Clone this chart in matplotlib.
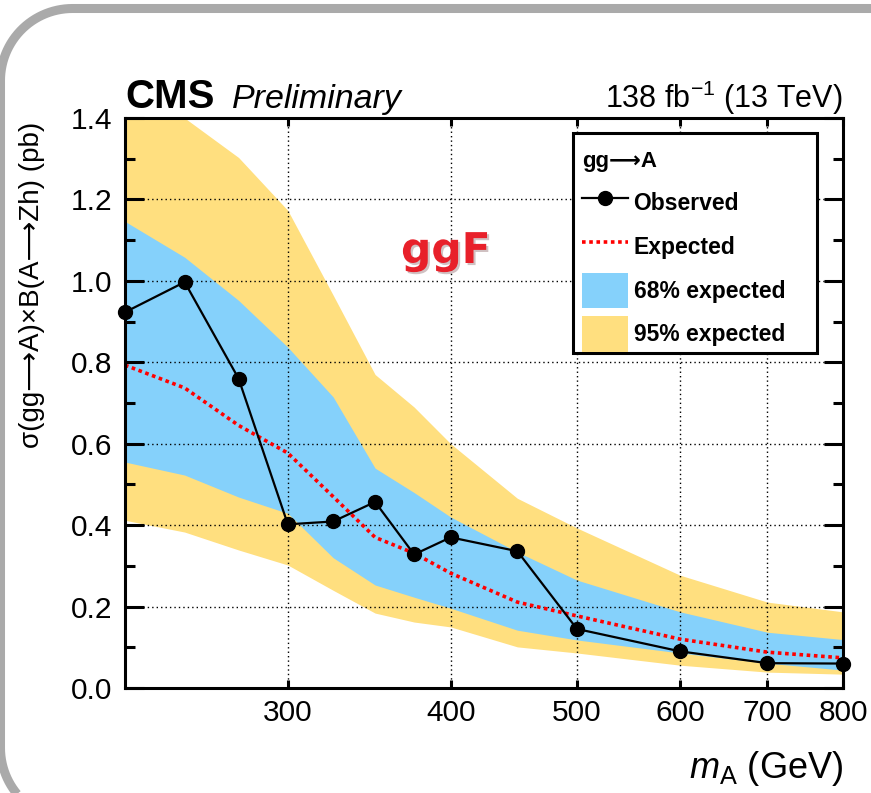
import matplotlib
matplotlib.use("Agg")
import matplotlib.pyplot as plt
import numpy as np
from matplotlib.lines import Line2D
from matplotlib.patches import Patch, PathPatch, Rectangle
from matplotlib.path import Path
from matplotlib.transforms import IdentityTransform
from matplotlib.ticker import FixedLocator, NullLocator, MultipleLocator, FormatStrFormatter
import matplotlib.patheffects as pe

plt.rcParams['font.family'] = ['Liberation Sans', 'DejaVu Sans']
plt.rcParams['mathtext.fontset'] = 'custom'
plt.rcParams['mathtext.rm'] = 'Liberation Sans'
plt.rcParams['mathtext.it'] = 'Liberation Sans:italic'
plt.rcParams['mathtext.bf'] = 'Liberation Sans:bold'

# ---- data ----
mass = [225, 250, 275, 300, 325, 350, 375, 400, 450, 500, 600, 700, 800]
observed = [0.923, 0.997, 0.760, 0.402, 0.409, 0.457, 0.328, 0.370, 0.336, 0.145, 0.090, 0.061, 0.060]
expected = [0.793, 0.737, 0.645, 0.577, 0.470, 0.370, 0.331, 0.282, 0.211, 0.177, 0.120, 0.088, 0.074]
up68 = [1.146, 1.058, 0.952, 0.837, 0.715, 0.540, 0.480, 0.420, 0.334, 0.265, 0.187, 0.137, 0.119]
lo68 = [0.555, 0.523, 0.469, 0.429, 0.320, 0.253, 0.223, 0.196, 0.142, 0.118, 0.086, 0.061, 0.044]
up95 = [1.500, 1.400, 1.303, 1.173, 0.965, 0.770, 0.690, 0.600, 0.466, 0.393, 0.277, 0.211, 0.187]
lo95 = [0.412, 0.383, 0.339, 0.302, 0.240, 0.184, 0.162, 0.150, 0.101, 0.086, 0.056, 0.039, 0.034]
xticks = [300, 400, 500, 600, 700, 800]
legend_header = 'gg⟶A'
legend_labels = ['Observed', 'Expected', '68% expected', '95% expected']

c68 = '#85D1FB'
c95 = '#FFDF7F'

W, H = 871, 793
fig = plt.figure(figsize=(W/100, H/100), dpi=100)

# outer rounded frame (open on the right/bottom, drawn in pixel coordinates)
x0, ytop, ybot, r = 0.5, H - 8.5, -27.0, 72.0
t1 = np.linspace(np.pi/2, np.pi, 30)
t2 = np.linspace(np.pi, 1.5*np.pi, 30)
pts = [(W + 50, ytop)]
pts += list(zip(x0 + r + r*np.cos(t1), ytop - r + r*np.sin(t1)))
pts += list(zip(x0 + r + r*np.cos(t2), ybot + r + r*np.sin(t2)))
pts += [(W + 50, ybot)]
frame = PathPatch(Path(pts), transform=IdentityTransform(), fill=False,
                  edgecolor='#AAAAAA', linewidth=6.5, capstyle='butt')
fig.add_artist(frame)

AX_L, AX_R, AX_T, AX_B = 125, 843, 118, 688
ax = fig.add_axes([AX_L/W, 1 - AX_B/H, (AX_R-AX_L)/W, (AX_B-AX_T)/H])

def afx(px):
    return (px - AX_L) / (AX_R - AX_L)

def afy(py):
    return (AX_B - py) / (AX_B - AX_T)

ax.fill_between(mass, lo95, up95, color=c95, lw=0, zorder=1)
ax.fill_between(mass, lo68, up68, color=c68, lw=0, zorder=1.2)
ax.plot(mass, expected, color='red', lw=2.6, ls=(0, (1, 1.0)), zorder=3)
ax.plot(mass, observed, color='black', lw=1.6, marker='o', ms=10,
        zorder=4, clip_on=False)

ax.set_xscale('log')
ax.set_xlim(225, 800)
ax.set_ylim(0, 1.4)
ax.xaxis.set_major_locator(FixedLocator(xticks))
ax.xaxis.set_minor_locator(NullLocator())
ax.set_xticklabels([str(t) for t in xticks])
ax.yaxis.set_major_locator(MultipleLocator(0.2))
ax.yaxis.set_minor_locator(MultipleLocator(0.1))
ax.yaxis.set_major_formatter(FormatStrFormatter('%.1f'))

ax.set_axisbelow(False)
ax.grid(True, which='major', color='black', ls=(0, (1, 2.2)), lw=1.0, zorder=2)

for s in ax.spines.values():
    s.set_linewidth(2.2)
    s.set_zorder(5)
ax.tick_params(axis='both', which='both', direction='in', top=True, right=True,
               width=2.2, labelsize=21.5)
ax.tick_params(axis='y', which='major', length=14, pad=9)
ax.tick_params(axis='y', which='minor', length=7)
ax.tick_params(axis='x', which='major', length=6, pad=8)

# axis titles
ax.text(1.0, -0.158, r'$m_{\mathrm{A}}$ (GeV)', transform=ax.transAxes,
        ha='right', va='baseline', fontsize=26)
fig.text(32/W, 1 - 122/H, 'σ(gg⟶A)×B(A⟶Zh) (pb)', rotation=90,
         ha='center', va='top', fontsize=20)

# header
ax.text(0.0, 1.0175, 'CMS', transform=ax.transAxes, ha='left', va='baseline',
        fontsize=29, fontweight='bold')
ax.text(afx(232), 1.0175, 'Preliminary', transform=ax.transAxes, ha='left',
        va='baseline', fontsize=24.5, fontstyle='italic')
ax.text(1.0, 1.0175, r'138 fb$^{-1}$ (13 TeV)', transform=ax.transAxes,
        ha='right', va='baseline', fontsize=22)

# ggF annotation
ax.text(afx(401), afy(263), 'ggF', transform=ax.transAxes,
        ha='left', va='baseline', fontsize=30.5, fontweight='bold',
        family='DejaVu Sans', color='#E8202A', zorder=6,
        path_effects=[pe.withSimplePatchShadow(offset=(1.5, -1.5), alpha=0.25)])

# legend: box + header + entries
box = Rectangle((afx(573), afy(353)), afx(817) - afx(573), afy(133) - afy(353),
                transform=ax.transAxes, facecolor='white', edgecolor='black',
                lw=2.2, zorder=6.5, clip_on=False)
ax.add_patch(box)
ax.text(afx(582), afy(161), legend_header, transform=ax.transAxes,
        ha='left', va='center', fontsize=16, fontweight='bold', zorder=7.5)

handles = [
    Line2D([], [], color='black', lw=1.6, marker='o', ms=10),
    Line2D([], [], color='red', lw=2.6, ls=(0, (1, 1.0))),
    Patch(facecolor=c68, edgecolor='none'),
    Patch(facecolor=c95, edgecolor='none'),
]
leg = ax.legend(handles, legend_labels, loc='upper left',
                bbox_to_anchor=(afx(582), afy(185.5)),
                borderaxespad=0, borderpad=0, frameon=False,
                prop={'weight': 'bold', 'size': 16.5},
                handlelength=2.0, handleheight=2.0, handletextpad=0.25,
                labelspacing=0.36)
leg.set_zorder(7)

fig.savefig('out.png', dpi=100)
